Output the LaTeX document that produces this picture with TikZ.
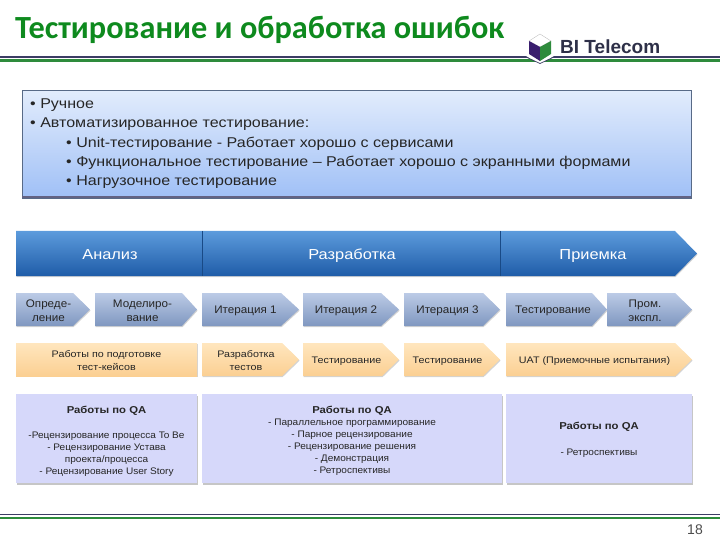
\documentclass[tikz,border=0pt]{standalone}
\usepackage{fontspec}
\setmainfont{Liberation Sans}
\newfontfamily\titlefont{Carlito}
\newfontfamily\widefont[FakeStretch=1.13]{Liberation Sans}
\newfontfamily\softfont[FakeStretch=1.06]{Liberation Sans}
\usetikzlibrary{positioning,shadows}

\definecolor{titlegreen}{HTML}{0E8A1E}
\definecolor{ruledark}{HTML}{3C3C64}
\definecolor{rulegreen}{HTML}{2E8B3C}
\definecolor{logopurple}{HTML}{3A1E6E}
\definecolor{logotext}{HTML}{2E3048}
\definecolor{phasetop}{HTML}{5C9BDC}
\definecolor{phasebot}{HTML}{1F5CA8}
\definecolor{steptop}{HTML}{BCCBE6}
\definecolor{stepbot}{HTML}{7F97C0}
\definecolor{worktop}{HTML}{FFE6BE}
\definecolor{workbot}{HTML}{FBCF92}
\definecolor{qafill}{HTML}{D6D8FA}
\definecolor{introtop}{HTML}{E2ECFC}
\definecolor{introbot}{HTML}{A0C0F6}

% pentagon: name, x from, x to, shoulder, y from, y to, style, text
\newcommand{\penta}[8]{
  \path[#7] (#2,#5) -- (#4,#5) -- (#3,{(#5+#6)/2}) -- (#4,#6) -- (#2,#6) -- cycle;
  \node[#7label] (#1) at ({(#2+#4)/2+4},{(#5+#6)/2+1.5}) {#8};
}

\begin{document}
\begin{tikzpicture}[x=1pt,y=-1pt,
  phase/.style={top color=phasetop, bottom color=phasebot, drop shadow={opacity=0.35,shadow xshift=0.5pt,shadow yshift=-1.2pt}},
  stepbox/.style={top color=steptop, bottom color=stepbot, drop shadow={opacity=0.35,shadow xshift=0.5pt,shadow yshift=-1.2pt}},
  workbox/.style={top color=worktop, bottom color=workbot, drop shadow={opacity=0.35,shadow xshift=0.5pt,shadow yshift=-1.2pt}},
  stepboxlabel/.style={font=\softfont\fontsize{11}{14}\selectfont, align=center, inner sep=0pt, text=black!85},
  workboxlabel/.style={font=\widefont\fontsize{9.5}{13}\selectfont, align=center, inner sep=0pt, text=black!85},
  qabox/.style={fill=qafill, drop shadow={opacity=0.45,shadow xshift=0.5pt,shadow yshift=-1.5pt}},
  qalabel/.style={font=\softfont\fontsize{9.5}{12}\selectfont, align=center, inner sep=0pt, text=black!85},
  phaselabel/.style={font=\widefont\fontsize{14.5}{17}\selectfont, text=white, inner sep=0pt, anchor=base},
  bullet/.style={font=\widefont\fontsize{14.2}{16}\selectfont, anchor=west, inner sep=0pt, text=black!85}
]
  \useasboundingbox (0,0) rectangle (720,540);

  % title and rules
  \node[font=\titlefont\bfseries\fontsize{32.3}{36}\selectfont, text=titlegreen, anchor=west, inner sep=0pt] (title) at (15,30)
    {Тестирование и обработка ошибок};
  \fill[ruledark] (0,56.5) rectangle (720,58);
  \fill[rulegreen] (0,59.5) rectangle (720,62);
  \fill[ruledark] (0,513.5) rectangle (720,515);
  \fill[rulegreen] (0,516.5) rectangle (720,519);

  % logo
  \fill[white] (526,56) -- (540,64) -- (554,56) -- cycle;
  \draw[ruledark, line width=0.7pt] (526,57) -- (540,63.5) -- (554,57);
  \fill[white, draw=black!30, line width=0.3pt] (540,34) -- (551,41) -- (540,47) -- (529,41) -- cycle;
  \fill[logopurple] (529,41) -- (540,47) -- (540,61) -- (529,54) -- cycle;
  \fill[rulegreen] (551,41) -- (540,47) -- (540,61) -- (551,54) -- cycle;
  \node[font=\bfseries\fontsize{19}{20}\selectfont, text=logotext, anchor=west, inner sep=0pt] (logo) at (560,47) {BI Telecom};

  % intro box
  \shade[top color=introtop, bottom color=introbot] (22,90.5) rectangle (691,197);
  \draw[introbot!55!black, line width=0.6pt] (22,90.5) rectangle (691,198);
  \fill[ruledark!80] (22,196.5) rectangle (691,198.5);
  \node[bullet] (manual) at (30,105) {• Ручное};
  \node[bullet] (auto) at (30,124.5) {• Автоматизированное тестирование:};
  \node[bullet] (unit) at (66,144) {• Unit-тестирование - Работает хорошо с сервисами};
  \node[bullet] (func) at (66,163) {• Функциональное тестирование – Работает хорошо с экранными формами};
  \node[bullet] (load) at (66,182) {• Нагрузочное тестирование};

  % phases
  \path[phase] (16,231) -- (675,231) -- (697,253.5) -- (675,276) -- (16,276) -- cycle;
  \draw[phasebot!80!black, line width=0.7pt] (202,231) -- (202,276) (500,231) -- (500,276);
  \node[phaselabel] (analysis) at (110,259) {Анализ};
  \node[phaselabel] (devel) at (352,259) {Разработка};
  \node[phaselabel] (accept) at (593,259) {Приемка};

  % steps
  \foreach \nm/\xa/\xb/\xc/\lbl in {
    define/16/90/73/{Опреде-\\ление},
    model/95/197/182/{Моделиро-\\вание},
    iterone/202/299/281/{Итерация 1},
    itertwo/303/399/381/{Итерация 2},
    iterthree/404/500/483/{Итерация 3},
    test/506/607/592/{Тестирование},
    prod/607/692/675/{Пром.\\экспл.}}
  {
    \penta{\nm}{\xa}{\xb}{\xc}{293}{326}{stepbox}{\lbl}
  }

  % test work
  \path[workbox] (16,343) rectangle (197,376);
  \node[workboxlabel] (cases) at (106.5,361) {Работы по подготовке\\тест-кейсов};
  \foreach \nm/\xa/\xb/\xc/\lbl in {
    testdev/202/299/282/{Разработка\\тестов},
    testone/303/399/382/{Тестирование},
    testtwo/404/500/483/{Тестирование},
    uat/506/692/675/{UAT (Приемочные испытания)}}
  {
    \penta{\nm}{\xa}{\xb}{\xc}{343}{376}{workbox}{\lbl}
  }

  % QA
  \path[qabox] (16,394) rectangle (197,483);
  \path[qabox] (202,394) rectangle (502,483);
  \path[qabox] (506,394) rectangle (692,483);
  \node[qalabel] (qaone) at (106.5,441)
    {{\widefont\bfseries\fontsize{10}{12}\selectfont Работы по QA}\\[13pt]-Рецензирование процесса To Be\\- Рецензирование Устава\\проекта/процесса\\- Рецензирование User Story};
  \node[qalabel] (qatwo) at (352,441)
    {{\widefont\bfseries\fontsize{10}{12}\selectfont Работы по QA}\\- Параллельное программирование\\- Парное рецензирование\\- Рецензирование решения\\- Демонстрация\\- Ретроспективы};
  \node[qalabel] (qathree) at (599,440)
    {{\widefont\bfseries\fontsize{10}{12}\selectfont Работы по QA}\\[14pt]- Ретроспективы};

  \node[font=\fontsize{14}{16}\selectfont, text=black!70, inner sep=0pt] (page) at (695,530) {18};
\end{tikzpicture}
\end{document}
